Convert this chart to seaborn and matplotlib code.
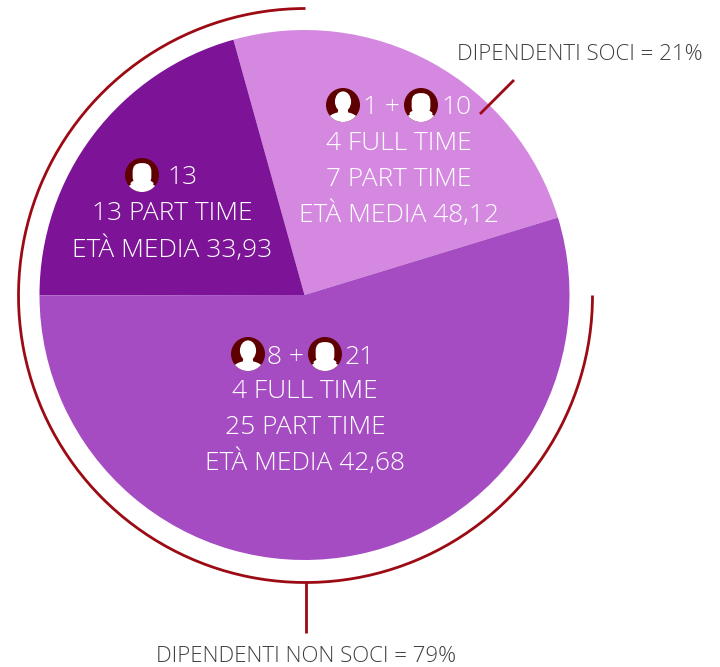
import numpy as np
import matplotlib
matplotlib.use('Agg')
import matplotlib.pyplot as plt
from matplotlib.patches import Arc, Circle, Ellipse, FancyBboxPatch
import seaborn as sns

# values (share of the circle, %)
slice_names = ['soci', 'giovani', 'non soci']
slice_values = [24.6, 20.7, 54.7]
slice_colors = ['#D488E0', '#7D1396', '#A64CC2']

soci_lines = ['4 FULL TIME', '7 PART TIME', 'ETÀ MEDIA 48,12']
giovani_lines = ['13 PART TIME', 'ETÀ MEDIA 33,93']
non_soci_lines = ['4 FULL TIME', '25 PART TIME', 'ETÀ MEDIA 42,68']

RED = '#9C0A14'
ICON = '#5E0000'
H = 667

sns.set_theme(style='white')
plt.rcParams['font.family'] = ['Open Sans', 'DejaVu Sans']

fig = plt.figure(figsize=(7.2, 6.67), dpi=100)
ax = fig.add_axes([0, 0, 1, 1])
ax.set_xlim(0, 720)
ax.set_ylim(0, H)
ax.axis('off')


def py(y):
    return H - y


def icon(cx, cy, female=False, r=17):
    cy = py(cy)
    base = Circle((cx, cy), r, fc=ICON, ec='none', zorder=3)
    ax.add_patch(base)
    shoulders = Ellipse((cx, cy - r * 0.98), r * 1.9, r * 1.15, fc='white', ec='none', zorder=4)
    ax.add_patch(shoulders)
    shoulders.set_clip_path(base)
    if female:
        hair = FancyBboxPatch((cx - r * 0.55, cy - r * 0.6), r * 1.1, r * 1.3,
                              boxstyle='round,pad=0,rounding_size=%f' % (r * 0.5),
                              fc='white', ec='none', zorder=4)
        ax.add_patch(hair)
        skirt = Ellipse((cx, cy - r * 0.5), r * 1.35, r * 0.45, fc='white', ec='none', zorder=4)
        ax.add_patch(skirt)
    else:
        ax.add_patch(Ellipse((cx, cy + r * 0.2), r * 0.95, r * 1.2, fc='white', ec='none', zorder=4))
        ax.add_patch(Ellipse((cx, cy - r * 0.4), r * 0.6, r * 0.6, fc='white', ec='none', zorder=4))


def label(x, y, s, size=19, color='white', ha='center'):
    ax.text(x, py(y), s, color=color, fontsize=size, ha=ha, va='center', fontweight='light', zorder=5)


# pie
ax.pie(slice_values, colors=slice_colors, startangle=17, center=(304.5, py(295)), radius=265,
       frame=False, wedgeprops={'linewidth': 0})
ax.set_xlim(0, 720)
ax.set_ylim(0, H)
ax.set_aspect('equal')

# outer arc and leader lines
ax.add_patch(Arc((305.5, py(295.5)), 574, 574, theta1=90, theta2=360, color=RED, lw=2))
ax.plot([305.5, 305.5], [py(581), py(633)], color=RED, lw=2, solid_capstyle='butt')
ax.plot([480, 514], [py(114), py(80)], color=RED, lw=2, solid_capstyle='butt')

# light slice
icon(343, 105)
icon(421, 105, female=True)
label(363, 108, '1 +', ha='left')
label(441, 108, '10', ha='left')
for y, s in zip([144, 180, 215], soci_lines):
    label(399, y, s)

# dark slice
icon(142, 175, female=True)
label(167, 178, '13', ha='left')
for y, s in zip([214, 250], giovani_lines):
    label(172, y, s)

# big slice
icon(248, 354)
icon(325, 354, female=True)
label(267, 357, '8 +', ha='left')
label(345, 357, '21', ha='left')
for y, s in zip([392, 428, 463], non_soci_lines):
    label(305, y, s)

# outside labels
label(580, 54, 'DIPENDENTI SOCI = 21%', size=16, color='#404040')
label(306, 657, 'DIPENDENTI NON SOCI = 79%', size=16, color='#404040')

fig.savefig('out.png', dpi=100)
